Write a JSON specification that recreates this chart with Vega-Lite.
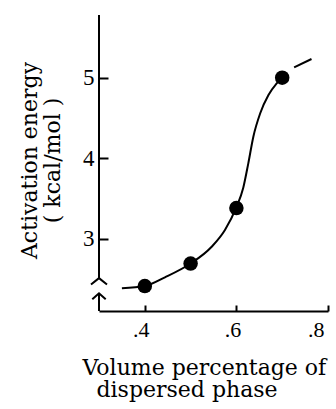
{
  "$schema": "https://vega.github.io/schema/vega-lite/v6.json",
  "width": 229,
  "height": 296,
  "autosize": "none",
  "padding": {"left": 99, "top": 15, "right": 8, "bottom": 98},
  "background": "white",
  "config": {"view": {"stroke": null}, "font": "DejaVu Serif"},
  "datasets": {
    "curve": [
      {"x": 0.350, "y": 2.382, "part": "main"},
      {"x": 0.400, "y": 2.410, "part": "main"},
      {"x": 0.444, "y": 2.519, "part": "main"},
      {"x": 0.500, "y": 2.690, "part": "main"},
      {"x": 0.546, "y": 2.899, "part": "main"},
      {"x": 0.575, "y": 3.107, "part": "main"},
      {"x": 0.600, "y": 3.390, "part": "main"},
      {"x": 0.615, "y": 3.633, "part": "main"},
      {"x": 0.626, "y": 3.936, "part": "main"},
      {"x": 0.637, "y": 4.267, "part": "main"},
      {"x": 0.652, "y": 4.558, "part": "main"},
      {"x": 0.670, "y": 4.785, "part": "main"},
      {"x": 0.688, "y": 4.931, "part": "main"},
      {"x": 0.700, "y": 5.000, "part": "main"},
      {"x": 0.726, "y": 5.130, "part": "tail"},
      {"x": 0.764, "y": 5.233, "part": "tail"}
    ],
    "obs": [
      {"x": 0.4, "y": 2.41},
      {"x": 0.5, "y": 2.69},
      {"x": 0.6, "y": 3.38},
      {"x": 0.7, "y": 5.0}
    ]
  },
  "layer": [
    {
      "data": {"name": "curve"},
      "mark": {"type": "line", "interpolate": "monotone", "color": "black", "strokeWidth": 2},
      "encoding": {
        "x": {
          "field": "x", "type": "quantitative",
          "scale": {"domain": [0.3, 0.8], "nice": false, "zero": false},
          "axis": {
            "values": [0.4, 0.6, 0.8],
            "labelExpr": "slice(format(datum.value, '.1f'), 1)",
            "grid": false,
            "tickSize": -6, "tickWidth": 2, "tickColor": "black",
            "domainColor": "black", "domainWidth": 2,
            "labelFont": "Liberation Serif", "labelFontSize": 22, "labelColor": "black",
            "labelPadding": 14, "labelOffset": -4,
            "title": ["Volume percentage of", "\u200b\u00a0\u00a0dispersed phase"],
            "titleFont": "DejaVu Serif", "titleFontSize": 22, "titleFontWeight": "normal", "titleColor": "black",
            "titleAnchor": "start", "titleAlign": "left", "titleBaseline": "alphabetic",
            "titleX": -17, "titleY": 63, "titleLineHeight": 22.5
          }
        },
        "y": {
          "field": "y", "type": "quantitative",
          "scale": {"domain": [2.1, 5.78], "nice": false, "zero": false},
          "axis": {
            "values": [3, 4, 5], "format": "d",
            "grid": false, "domain": false,
            "tickSize": -9, "tickWidth": 2, "tickColor": "black",
            "labelFont": "Liberation Serif", "labelFontSize": 23, "labelColor": "black",
            "labelPadding": 14,
            "title": ["Activation energy", "( kcal/mol )"],
            "titleFont": "DejaVu Serif", "titleFontSize": 22, "titleFontWeight": "normal", "titleColor": "black",
            "titleAlign": "center", "titleBaseline": "alphabetic",
            "titleX": -63, "titleY": 145, "titleLineHeight": 23
          }
        },
        "detail": {"field": "part"}
      }
    },
    {
      "data": {"name": "obs"},
      "mark": {"type": "point", "filled": true, "color": "black", "opacity": 1, "size": 210},
      "encoding": {
        "x": {"field": "x", "type": "quantitative"},
        "y": {"field": "y", "type": "quantitative"}
      }
    },
    {
      "data": {"values": [{}]},
      "mark": {"type": "rule", "color": "black", "strokeWidth": 2},
      "encoding": {
        "x": {"datum": 0.3},
        "y": {"datum": 5.78},
        "y2": {"datum": 2.506}
      }
    },
    {
      "data": {"values": [{}]},
      "mark": {"type": "rule", "color": "black", "strokeWidth": 2},
      "encoding": {
        "x": {"datum": 0.3},
        "y": {"datum": 2.32},
        "y2": {"datum": 2.1}
      }
    },
    {
      "data": {"values": [{}]},
      "mark": {"type": "point", "shape": "M -1 0.4 L 0 -0.4 L 1 0.4", "filled": false, "color": "black", "strokeWidth": 2, "opacity": 1, "size": 256},
      "encoding": {
        "x": {"datum": 0.3},
        "y": {"datum": 2.469}
      }
    },
    {
      "data": {"values": [{}]},
      "mark": {"type": "point", "shape": "M -1 0.45 L 0 -0.45 L 1 0.45", "filled": false, "color": "black", "strokeWidth": 2, "opacity": 1, "size": 180},
      "encoding": {
        "x": {"datum": 0.3},
        "y": {"datum": 2.283}
      }
    }
  ]
}
